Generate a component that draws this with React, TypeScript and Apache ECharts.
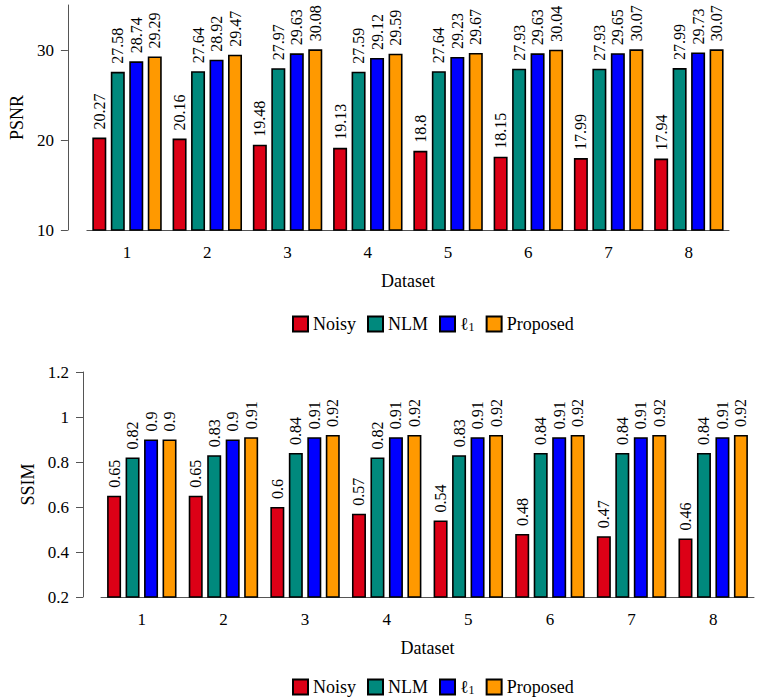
import React, { useEffect, useRef } from "react";
import * as echarts from "echarts";

const datasets = ["1", "2", "3", "4", "5", "6", "7", "8"];
const methods = ["Noisy", "NLM", "ℓ1", "Proposed"];

const psnrNoisy = [20.27, 20.16, 19.48, 19.13, 18.8, 18.15, 17.99, 17.94];
const psnrNLM = [27.58, 27.64, 27.97, 27.59, 27.64, 27.93, 27.93, 27.99];
const psnrL1 = [28.74, 28.92, 29.63, 29.12, 29.23, 29.63, 29.65, 29.73];
const psnrProposed = [29.29, 29.47, 30.08, 29.59, 29.67, 30.04, 30.07, 30.07];

const ssimNoisy = [0.65, 0.65, 0.6, 0.57, 0.54, 0.48, 0.47, 0.46];
const ssimNLM = [0.82, 0.83, 0.84, 0.82, 0.83, 0.84, 0.84, 0.84];
const ssimL1 = [0.9, 0.9, 0.91, 0.91, 0.91, 0.91, 0.91, 0.91];
const ssimProposed = [0.9, 0.91, 0.92, 0.92, 0.92, 0.92, 0.92, 0.92];

const psnrTicks = [10, 20, 30];
const ssimTicks = [0.2, 0.4, 0.6, 0.8, 1, 1.2];

const colors = ["#DC0016", "#00897D", "#0000FF", "#FF9900"];
const FONT = "Liberation Serif";

function makeSeries(name: string, values: number[], idx: number, color: string) {
  return {
    name,
    type: "bar",
    xAxisIndex: idx,
    yAxisIndex: idx,
    barWidth: 14,
    barGap: "32%",
    data: values,
    itemStyle: { color, borderColor: "#000", borderWidth: 1.6 },
    label: {
      show: true,
      position: "top",
      rotate: 90,
      align: "left",
      verticalAlign: "middle",
      distance: 8,
      fontFamily: FONT,
      fontSize: 16,
      color: "#000",
      formatter: (p: any) => String(p.value),
    },
  };
}

function xAxisCfg(idx: number) {
  return {
    type: "category",
    gridIndex: idx,
    data: datasets,
    boundaryGap: true,
    name: "Dataset",
    nameLocation: "middle",
    nameGap: 42,
    nameTextStyle: { fontFamily: FONT, fontSize: 18, color: "#000" },
    axisLine: { show: true, onZero: false, lineStyle: { color: "#555", width: 1 } },
    axisTick: { show: false },
    splitLine: { show: false },
    axisLabel: { margin: 14, fontFamily: FONT, fontSize: 17, color: "#000" },
  };
}

function yAxisCfg(idx: number, name: string, min: number, max: number, ticks: number[], offset: number, nameGap: number) {
  return {
    type: "value",
    gridIndex: idx,
    min,
    max,
    offset,
    name,
    nameLocation: "middle",
    nameRotate: 90,
    nameGap,
    nameTextStyle: { fontFamily: FONT, fontSize: 18, color: "#000" },
    axisLine: { show: true, lineStyle: { color: "#555", width: 1 } },
    axisTick: { show: true, length: 7, customValues: ticks, lineStyle: { color: "#555" } },
    splitLine: { show: false },
    axisLabel: {
      customValues: ticks,
      margin: 14,
      fontFamily: FONT,
      fontSize: 17,
      color: "#000",
      formatter: (v: number) => String(+v.toFixed(2)),
    },
  };
}

function legendCfg(top: number) {
  return {
    top,
    left: 287,
    itemWidth: 15,
    itemHeight: 15,
    itemGap: 11,
    icon: "rect",
    data: methods,
    formatter: (n: string) => (n === "ℓ1" ? "{b|ℓ}{s|1}" : n),
    textStyle: {
      fontFamily: FONT,
      fontSize: 18,
      color: "#000",
      rich: {
        b: { fontFamily: FONT, fontSize: 18, color: "#000" },
        s: { fontFamily: FONT, fontSize: 12, color: "#000", verticalAlign: "bottom" },
      },
    },
  };
}

export default function App() {
  const ref = useRef<HTMLDivElement>(null);
  useEffect(() => {
    if (!ref.current) return;
    const chart = echarts.init(ref.current, null, { renderer: "svg" });
    const psnr = [psnrNoisy, psnrNLM, psnrL1, psnrProposed];
    const ssim = [ssimNoisy, ssimNLM, ssimL1, ssimProposed];
    chart.setOption({
      animation: false,
      backgroundColor: "#fff",
      grid: [
        { left: 76, top: 5, width: 653, height: 225 },
        { left: 101, top: 372, width: 653, height: 225 },
      ],
      xAxis: [xAxisCfg(0), xAxisCfg(1)],
      yAxis: [
        yAxisCfg(0, "PSNR", 10, 35, psnrTicks, 19, 38),
        yAxisCfg(1, "SSIM", 0.2, 1.2, ssimTicks, 18, 46),
      ],
      legend: [legendCfg(310), legendCfg(673)],
      series: [
        ...methods.map((m, i) => makeSeries(m, psnr[i], 0, colors[i])),
        ...methods.map((m, i) => makeSeries(m, ssim[i], 1, colors[i])),
      ],
    });
    return () => chart.dispose();
  }, []);
  return (
    <div
      ref={ref}
      style={{ position: "absolute", left: 0, top: 0, width: 760, height: 697 }}
    />
  );
}
